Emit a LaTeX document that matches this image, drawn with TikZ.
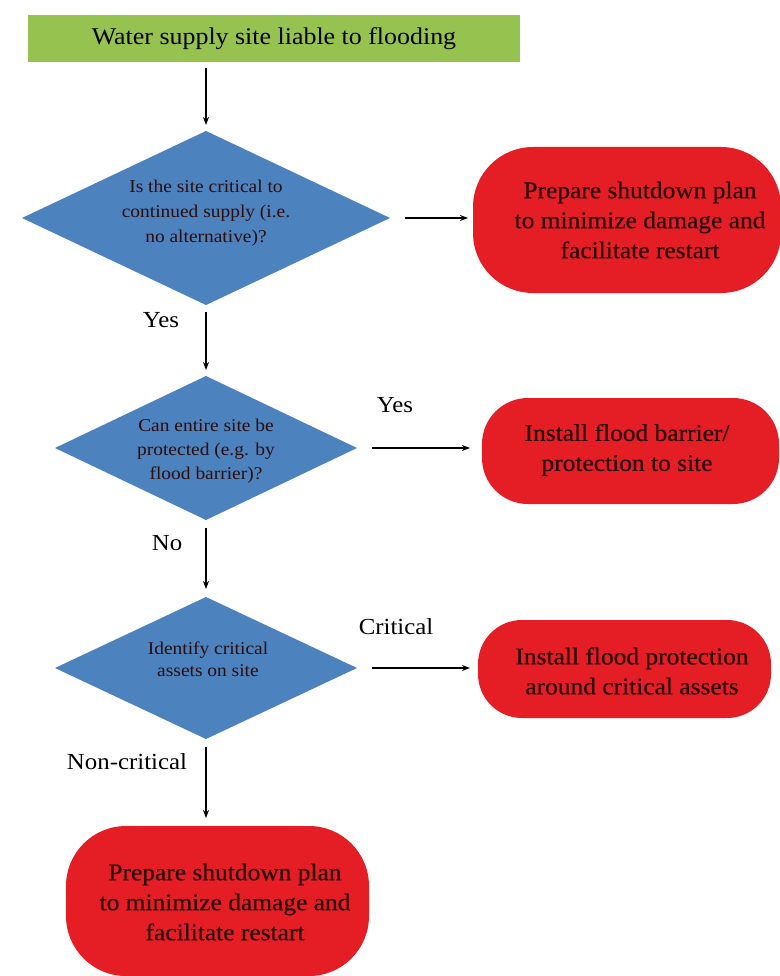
\documentclass[tikz,border=0pt]{standalone}
\usepackage{fontspec}
\setmainfont[FakeStretch=1.08]{Liberation Serif}
\newfontfamily\heavyserif[FakeStretch=1.06,FakeBold=0.6]{Liberation Serif}
\usetikzlibrary{shapes.geometric,arrows.meta}
\definecolor{boxgreen}{RGB}{150,195,80}
\definecolor{diablue}{RGB}{76,130,190}
\definecolor{termred}{RGB}{228,30,36}
\definecolor{darktext}{RGB}{45,12,12}
\begin{document}
\begin{tikzpicture}[x=1pt,y=-1pt,
  startbox/.style={rectangle, fill=boxgreen, minimum width=492pt, minimum height=47pt, inner sep=0pt, outer sep=0pt, font=\fontsize{24}{28}\selectfont},
  dia/.style={diamond, fill=diablue, inner sep=0pt, outer sep=0pt},
  endbox/.style={rectangle, rounded corners=#1, fill=termred, inner sep=0pt, outer sep=0pt},
  endbox/.default=45pt,
  dtext/.style={align=center, inner sep=0pt, text=darktext, font=\fontsize{18}{#1}\selectfont},
  dtext/.default=24pt,
  etext/.style={align=center, inner sep=0pt, text=darktext, font=\heavyserif\fontsize{24}{30}\selectfont},
  lbl/.style={inner sep=0pt, font=\fontsize{23}{28}\selectfont},
  arr/.style={-{Stealth[length=8pt,width=6pt]}, line width=1.4pt}
]
\useasboundingbox[fill=white] (0,0) rectangle (779,976);

% start
\node[startbox] (start) at (274,38.5) {Water supply site liable to flooding};

% diamonds
\node[dia, minimum width=368pt, minimum height=174pt] (d1) at (206,218) {};
\node[dtext=25pt] (d1t) at (206,213) {Is the site critical to\\continued supply (i.e.\\no alternative)?};

\node[dia, minimum width=302pt, minimum height=144pt] (d2) at (206,448) {};
\node[dtext=24pt] (d2t) at (206,451) {Can entire site be\\protected (e.g. by\\flood barrier)?};

\node[dia, minimum width=302pt, minimum height=142pt] (d3) at (206,668) {};
\node[dtext=22pt] (d3t) at (208,659) {Identify critical\\assets on site};

% terminal boxes
\node[endbox=60pt, minimum width=308pt, minimum height=146pt] (r1) at (627,220) {};
\node[etext] (r1t) at (640,220) {Prepare shutdown plan\\to minimize damage and\\facilitate restart};

\node[endbox=46pt, minimum width=297pt, minimum height=106pt] (r2) at (630.5,451) {};
\node[etext] (r2t) at (627,450) {Install flood barrier/\\protection to site};

\node[endbox=44pt, minimum width=293pt, minimum height=98pt] (r3) at (624.5,669) {};
\node[etext] (r3t) at (632,671) {Install flood protection\\around critical assets};

\node[endbox=60pt, minimum width=303pt, minimum height=150pt] (r4) at (217.5,901) {};
\node[etext] (r4t) at (225,902) {Prepare shutdown plan\\to minimize damage and\\facilitate restart};

% connectors
\draw[arr, shorten <=6pt, shorten >=6pt] (start.south -| d1.north) -- (d1.north);
\draw[arr, shorten <=15pt, shorten >=5pt] (d1.east) -- (d1.east -| r1.west);
\draw[arr, shorten <=7pt, shorten >=6pt] (d1.south) -- (d2.north);
\draw[arr, shorten <=15pt, shorten >=12pt] (d2.east) -- (d2.east -| r2.west);
\draw[arr, shorten <=8pt, shorten >=8pt] (d2.south) -- (d3.north);
\draw[arr, shorten <=15pt, shorten >=8pt] (d3.east) -- (d3.east -| r3.west);
\draw[arr, shorten <=8pt, shorten >=8pt] (d3.south) -- (d3.south |- r4.north);

% labels
\node[lbl] (l1) at (161,320) {Yes};
\node[lbl] (l2) at (395,405) {Yes};
\node[lbl] (l3) at (167,543) {No};
\node[lbl] (l4) at (396,627) {Critical};
\node[lbl] (l5) at (127,762) {Non-critical};
\end{tikzpicture}
\end{document}
